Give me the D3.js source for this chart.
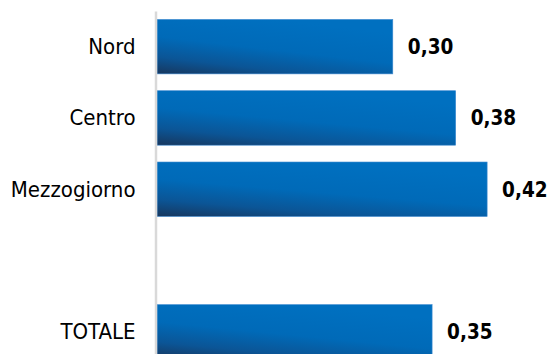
<!DOCTYPE html>
<html>
<head>
<meta charset="utf-8">
<script src="https://cdn.jsdelivr.net/npm/d3@7"></script>
<style>
  body { margin: 0; background: #fff; }
  svg { display: block; }
</style>
</head>
<body>
<div id="chart"></div>
<script>
// regions, with an empty slot before the total
var categories = ["Nord", "Centro", "Mezzogiorno", "", "TOTALE"];
var values = [0.30, 0.38, 0.42, null, 0.35];
var valueLabels = ["0,30", "0,38", "0,42", "", "0,35"];

var width = 549, height = 354;

var svg = d3.select("#chart").append("svg")
  .attr("width", width)
  .attr("height", height);

var data = categories.map(function(c, i) {
  return { cat: c, value: values[i], label: valueLabels[i] };
});

var x = d3.scaleLinear().domain([0, 0.5]).range([157, 550]);
var y = d3.scaleBand()
  .domain(categories)
  .range([11, 367.5])
  .paddingInner(0.236)
  .paddingOuter(0.118);

// bar fill: bright blue, darker towards the lower left
var defs = svg.append("defs");
var grad = defs.append("linearGradient")
  .attr("id", "barGrad")
  .attr("x1", 0).attr("y1", 1)
  .attr("x2", 0.5).attr("y2", 0);
grad.append("stop").attr("offset", "0").attr("stop-color", "#17375e");
grad.append("stop").attr("offset", "0.25").attr("stop-color", "#0b5596");
grad.append("stop").attr("offset", "0.55").attr("stop-color", "#006ab8");
grad.append("stop").attr("offset", "1").attr("stop-color", "#0070c0");

svg.selectAll(".bar")
  .data(data.filter(function(d) { return d.value != null; }))
  .enter()
  .append("rect")
    .attr("class", "bar")
    .attr("x", x(0))
    .attr("y", function(d) { return y(d.cat); })
    .attr("width", function(d) { return x(d.value) - x(0); })
    .attr("height", y.bandwidth())
    .style("fill", "url(#barGrad)")
    .style("stroke", "#3f8ad0")
    .style("stroke-width", 0.6);

svg.selectAll(".val")
  .data(data.filter(function(d) { return d.value != null; }))
  .enter()
  .append("text")
    .attr("class", "val")
    .attr("x", function(d) { return x(d.value) + 15; })
    .attr("y", function(d) { return y(d.cat) + y.bandwidth() / 2; })
    .attr("dy", "0.36em")
    .style("font-family", "'DejaVu Sans Condensed', 'DejaVu Sans', sans-serif")
    .style("font-stretch", "condensed")
    .style("font-weight", "bold")
    .style("font-size", "20.5px")
    .style("fill", "#000")
    .text(function(d) { return d.label; });

var axis = svg.append("g")
  .attr("transform", "translate(155.5,0)")
  .call(d3.axisLeft(y).tickSize(0).tickPadding(20));

axis.select(".domain")
  .style("stroke", "#d9d9d9")
  .style("stroke-width", 2.5);

axis.selectAll("text")
  .attr("dy", "0.33em")
  .style("font-family", "'DejaVu Sans Condensed', 'DejaVu Sans', sans-serif")
  .style("font-stretch", "condensed")
  .style("font-size", "22px")
  .style("fill", "#000");
</script>
</body>
</html>
